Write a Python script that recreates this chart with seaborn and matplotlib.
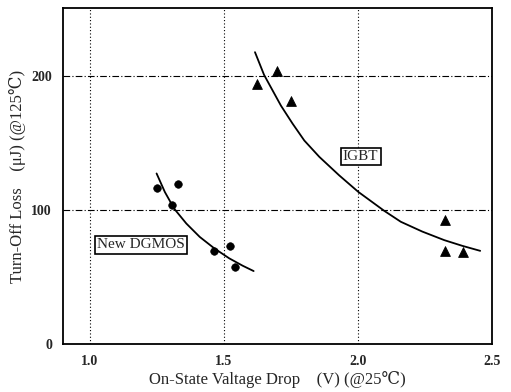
import matplotlib
matplotlib.use("Agg")
import matplotlib.pyplot as plt
import seaborn as sns
import pandas as pd
from matplotlib.ticker import MultipleLocator

# Measured points
dgmos_x = [1.249, 1.307, 1.328, 1.464, 1.521, 1.541]
dgmos_y = [116.9, 103.5, 119.9, 69.4, 73.1, 57.7]
igbt_x = [1.624, 1.699, 1.750, 2.325, 2.323, 2.392]
igbt_y = [194.5, 203.7, 181.6, 93.0, 69.4, 68.7]

# Fitted trend curves
dgmos_fit_x = [1.249, 1.28, 1.315, 1.36, 1.41, 1.464, 1.52, 1.57, 1.611]
dgmos_fit_y = [127.4, 113.5, 101.0, 90.0, 80.0, 71.5, 64.0, 58.5, 54.5]
igbt_fit_x = [1.616, 1.650, 1.713, 1.756, 1.80, 1.856, 1.93, 2.001, 2.098, 2.160, 2.24, 2.322, 2.39, 2.456]
igbt_fit_y = [218.0, 201.0, 178.0, 164.7, 152.0, 139.8, 126.0, 113.7, 99.5, 91.3, 84.0, 77.6, 73.3, 69.6]

xticks = [1.0, 1.5, 2.0, 2.5]
xtick_labels = ["1.0", "1.5", "2.0", "2.5"]
yticks = [0, 100, 200]
ytick_labels = ["0", "100", "200"]

sns.set_style("white")
plt.rcParams['font.family'] = ['Liberation Serif', 'DejaVu Serif']

fig = plt.figure(figsize=(5.11, 3.92), dpi=100)
ax = fig.add_axes([0.1233, 0.1224, 0.8395, 0.8572])

# grid
for xv in [1.0, 1.5, 2.0]:
    ax.axvline(xv, color='black', lw=0.8, ls=(0, (1, 2)), zorder=0)
for yv in [100, 200]:
    ax.axhline(yv, color='black', lw=0.8, ls=(0, (6, 2, 1, 2)), zorder=0)

df_d = pd.DataFrame({"x": dgmos_x, "y": dgmos_y})
df_i = pd.DataFrame({"x": igbt_x, "y": igbt_y})
sns.scatterplot(data=df_d, x="x", y="y", ax=ax, marker='o', s=30, color='black', edgecolor='black', zorder=3)
sns.scatterplot(data=df_i, x="x", y="y", ax=ax, marker='^', s=50, color='black', edgecolor='black', zorder=3)

df_df = pd.DataFrame({"x": dgmos_fit_x, "y": dgmos_fit_y})
df_if = pd.DataFrame({"x": igbt_fit_x, "y": igbt_fit_y})
sns.lineplot(data=df_df, x="x", y="y", ax=ax, color='black', lw=1.3, sort=False, zorder=2)
sns.lineplot(data=df_if, x="x", y="y", ax=ax, color='black', lw=1.3, sort=False, zorder=2)

ax.set_xlim(0.9, 2.5)
ax.set_ylim(0, 251)
ax.set_xticks(xticks)
ax.set_xticklabels(xtick_labels, fontsize=10, fontweight='bold')
ax.set_yticks(yticks)
ax.set_yticklabels(ytick_labels, fontsize=10, fontweight='bold')
ax.xaxis.set_minor_locator(MultipleLocator(0.1))
ax.yaxis.set_minor_locator(MultipleLocator(50))
ax.tick_params(axis='both', which='major', direction='in', length=4, width=1, pad=8)
ax.tick_params(axis='both', which='minor', direction='in', length=2, width=1)
for sp in ax.spines.values():
    sp.set_linewidth(1.3)
    sp.set_color('black')

ax.set_xlabel("On-State Valtage Drop    (V) (@25℃)", fontsize=12, labelpad=2)
ax.set_ylabel("Turn-Off Loss    (μJ) (@125℃)", fontsize=12, labelpad=4)

bbox = dict(boxstyle='square,pad=0.15', fc='white', ec='black', lw=1.2)
ax.text(2.01, 140, "IGBT", fontsize=11, ha='center', va='center', bbox=bbox)
ax.text(1.19, 74, "New DGMOS", fontsize=11, ha='center', va='center', bbox=bbox)

fig.savefig("out.png", dpi=100)
